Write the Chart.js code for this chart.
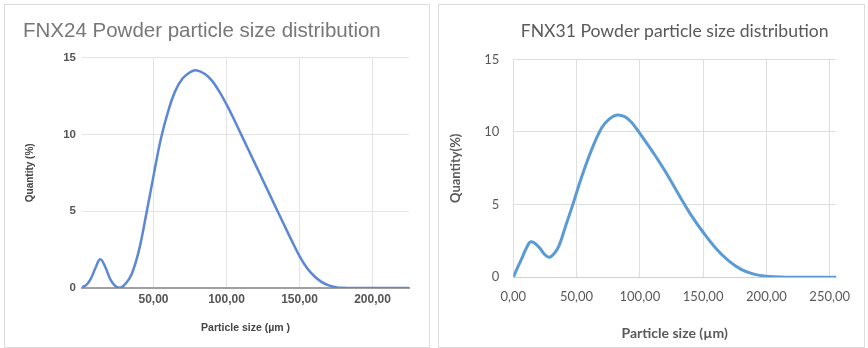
<!DOCTYPE html>
<html>
<head>
<meta charset="utf-8">
<script src="https://cdn.jsdelivr.net/npm/chart.js@4.4.1/dist/chart.umd.min.js"></script>
<style>
  html, body { margin: 0; padding: 0; background: #fff; }
  body { width: 868px; height: 348px; position: relative; overflow: hidden; }
  .panel { position: absolute; border: 1px solid #dcdcdc; box-sizing: border-box; background: #fff; }
  #p1 { left: 4px; top: 4px; width: 426px; height: 344px; }
  #p2 { left: 438px; top: 4px; width: 427px; height: 344px; }
  canvas { position: absolute; }
  #c1 { left: 5px; top: 5px; }
  #c2 { left: 440px; top: 5px; }
</style>
</head>
<body>
<div class="panel" id="p1"></div>
<div class="panel" id="p2"></div>
<canvas id="c1" width="424" height="342" style="width:424px;height:342px"></canvas>
<canvas id="c2" width="424" height="342" style="width:424px;height:342px"></canvas>
<script>
// ---- Data ----
const fnx24Title = 'FNX24 Powder particle size distribution';
const fnx31Title = 'FNX31 Powder particle size distribution';

const fnx24Sizes    = [1, 4, 7, 10, 13.5, 17, 20.5, 24, 27.5, 31, 35, 40, 45, 50, 55, 60, 65, 70, 75, 79, 85, 90, 95, 100, 105, 110, 120, 130, 140, 145, 150, 155, 160, 165, 170, 176, 185, 200, 225];
const fnx24Quantity = [0.05, 0.2, 0.6, 1.25, 1.87, 1.35, 0.55, 0.12, 0.02, 0.3, 0.9, 2.45, 4.8, 7.3, 9.7, 11.5, 12.85, 13.65, 14.05, 14.18, 13.95, 13.5, 12.8, 11.95, 11.0, 10.0, 8.0, 6.0, 4.0, 3.02, 2.08, 1.32, 0.78, 0.4, 0.17, 0.03, 0, 0, 0];

const fnx31Sizes    = [0, 3, 7, 10, 14, 20, 25, 28.5, 32, 36, 42, 47, 54, 62, 70, 76, 82, 88, 93, 98, 104, 110, 120, 130, 140, 150, 160, 170, 180, 190, 200, 215, 235, 255];
const fnx31Quantity = [0, 0.6, 1.35, 1.95, 2.45, 2.1, 1.55, 1.38, 1.6, 2.15, 3.7, 5.0, 6.9, 8.8, 10.3, 10.9, 11.17, 11.05, 10.7, 10.15, 9.4, 8.65, 7.3, 5.8, 4.35, 3.1, 2.0, 1.15, 0.55, 0.22, 0.07, 0.01, 0, 0];

const fnx24XTicks = [50, 100, 150, 200];
const fnx31XTicks = [0, 50, 100, 150, 200, 250];
const yTicks = [0, 5, 10, 15];

const xAxisLabel24 = 'Particle size (µm )';
const yAxisLabel24 = 'Quantity (%)';
const xAxisLabel31 = 'Particle size (µm)';
const yAxisLabel31 = 'Quantity(%)';

function toPoints(xs, ys) { return xs.map((x, i) => ({ x: x, y: ys[i] })); }
function fmtComma(v) { return Number(v).toFixed(2).replace('.', ','); }
function setTicks(list) { return function (scale) { scale.ticks = list.map(v => ({ value: v })); }; }

// ---- Left chart (Google Sheets style) ----
const f1 = 'Liberation Sans, Arial, sans-serif';
new Chart(document.getElementById('c1'), {
  type: 'line',
  data: {
    datasets: [{
      data: toPoints(fnx24Sizes, fnx24Quantity),
      borderColor: '#5b87d6',
      borderWidth: 2.5,
      pointRadius: 0,
      tension: 0.4,
      fill: false
    }]
  },
  options: {
    responsive: false,
    animation: false,
    layout: { padding: { left: 18, right: 20, top: 0, bottom: 0 } },
    plugins: {
      legend: { display: false },
      tooltip: { enabled: false },
      title: {
        display: true,
        text: fnx24Title,
        align: 'start',
        color: '#777777',
        font: { family: f1, size: 20.5, weight: 'normal', lineHeight: 1.2 },
        padding: { top: 14, bottom: 14 }
      }
    },
    scales: {
      x: {
        type: 'linear',
        min: 1,
        max: 225,
        afterBuildTicks: setTicks(fnx24XTicks),
        afterFit: function (s) { s.height = 59; },
        grid: { color: '#e3e3e3', lineWidth: 1, drawTicks: false },
        border: { display: true, color: '#a0a0a0', width: 2 },
        ticks: {
          callback: fmtComma,
          color: '#555555',
          padding: 4,
          maxRotation: 0,
          font: { family: f1, size: 12, weight: 'bold' }
        },
        title: {
          display: true,
          text: xAxisLabel24,
          color: '#444444',
          font: { family: f1, size: 10.5, weight: 'bold', lineHeight: 1.2 },
          padding: { top: 0, bottom: 13 }
        }
      },
      y: {
        type: 'linear',
        min: 0,
        max: 15,
        afterBuildTicks: setTicks(yTicks),
        afterFit: function (s) { s.width = 59; },
        grid: { color: '#e3e3e3', lineWidth: 1, drawTicks: false },
        border: { display: false },
        ticks: {
          color: '#555555',
          padding: 6,
          font: { family: f1, size: 11.5, weight: 'bold' }
        },
        title: {
          display: true,
          text: yAxisLabel24,
          color: '#444444',
          font: { family: f1, size: 10, weight: 'bold', lineHeight: 1.2 },
          padding: { top: 1, bottom: 0 }
        }
      }
    }
  }
});

// ---- Right chart (Excel style) ----
const f2 = 'Lato, Carlito, Calibri, sans-serif';
new Chart(document.getElementById('c2'), {
  type: 'line',
  data: {
    datasets: [{
      data: toPoints(fnx31Sizes, fnx31Quantity),
      borderColor: '#5b9bd5',
      borderWidth: 3,
      pointRadius: 0,
      tension: 0.4,
      fill: false
    }]
  },
  options: {
    responsive: false,
    animation: false,
    layout: { padding: { left: 9, right: 28, top: 0, bottom: 0 } },
    plugins: {
      legend: { display: false },
      tooltip: { enabled: false },
      title: {
        display: true,
        fullSize: false,
        text: fnx31Title,
        align: 'center',
        color: '#595959',
        font: { family: f2, size: 17.6, weight: 'normal', lineHeight: 1.2 },
        padding: { top: 16.2, bottom: 17 }
      }
    },
    scales: {
      x: {
        type: 'linear',
        min: 0,
        max: 255,
        afterBuildTicks: setTicks(fnx31XTicks),
        afterFit: function (s) { s.height = 69.7; },
        grid: { color: '#dedede', lineWidth: 1, drawTicks: false },
        border: { display: true, color: '#d0d0d0', width: 1 },
        ticks: {
          callback: fmtComma,
          color: '#595959',
          padding: 11.6,
          maxRotation: 0,
          font: { family: f2, size: 13 }
        },
        title: {
          display: true,
          text: xAxisLabel31,
          color: '#595959',
          font: { family: f2, size: 14, weight: 'bold', lineHeight: 1.2 },
          padding: { top: 0, bottom: 5.3 }
        }
      },
      y: {
        type: 'linear',
        min: 0,
        max: 15,
        afterBuildTicks: setTicks(yTicks),
        afterFit: function (s) { s.width = 64.3; },
        grid: { color: '#dedede', lineWidth: 1, drawTicks: false },
        border: { display: false },
        ticks: {
          color: '#595959',
          padding: 14,
          font: { family: f2, size: 13 }
        },
        title: {
          display: true,
          text: yAxisLabel31,
          color: '#595959',
          font: { family: f2, size: 13, weight: 'bold', lineHeight: 1 },
          padding: { top: 0, bottom: 0 }
        }
      }
    }
  }
});
</script>
</body>
</html>
